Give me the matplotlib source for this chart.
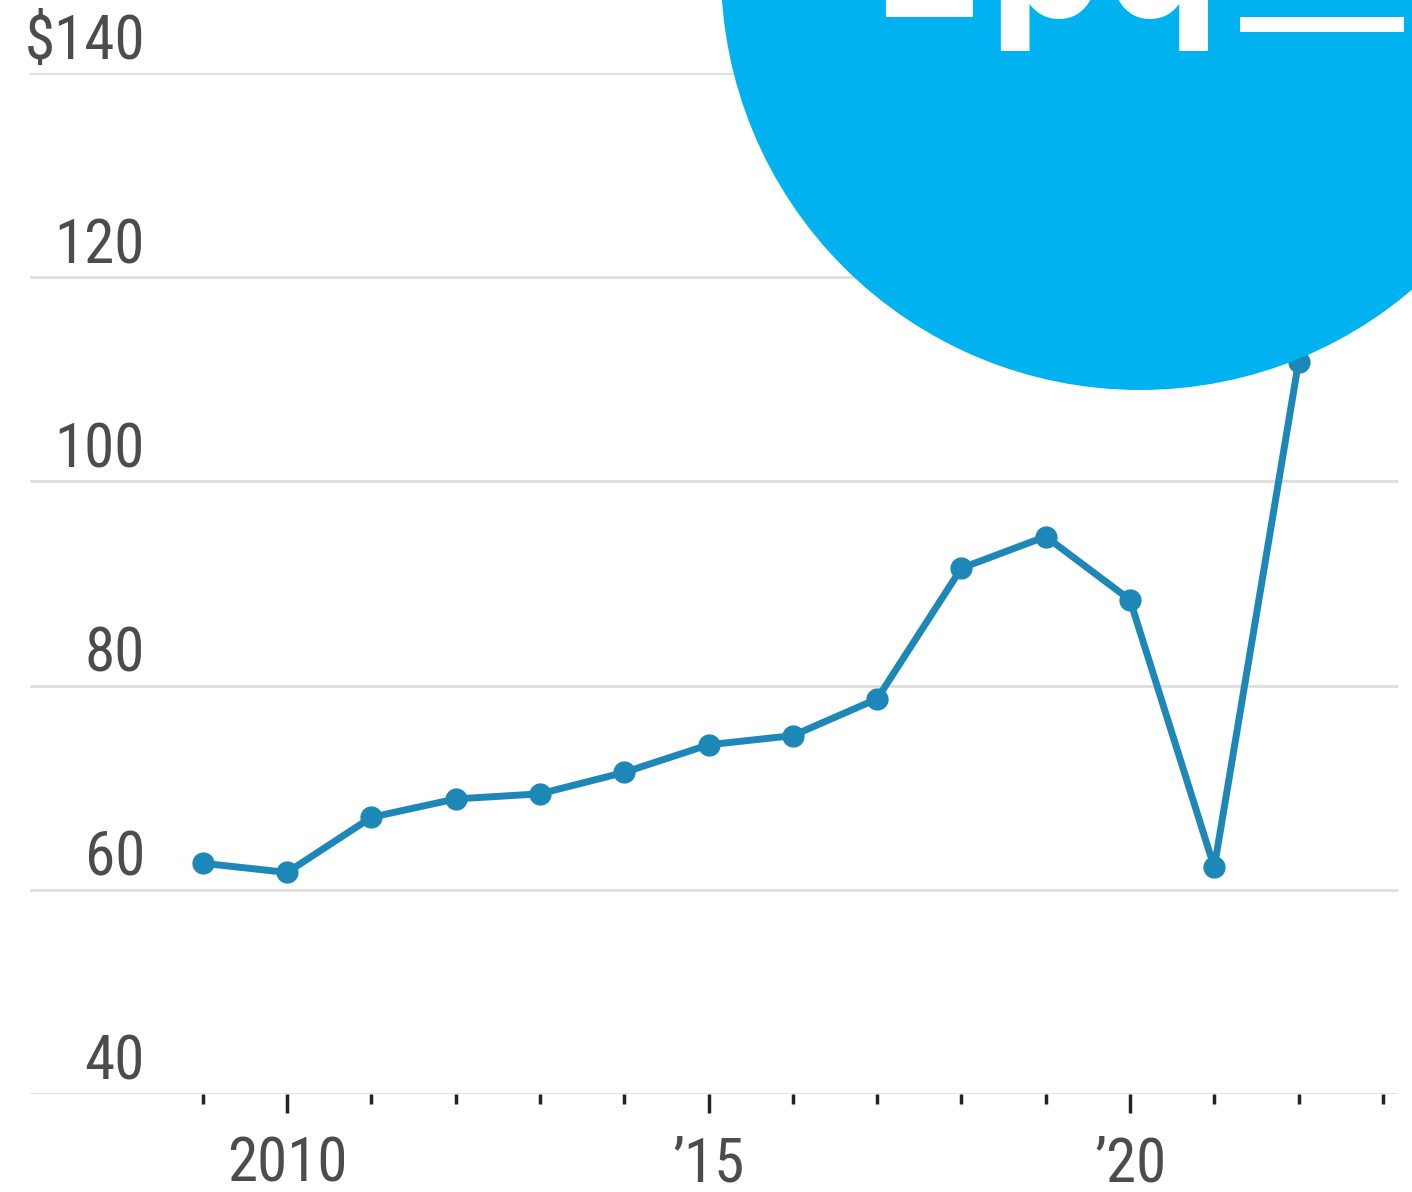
import matplotlib
matplotlib.use('Agg')
import matplotlib.pyplot as plt
from matplotlib.patches import Circle
from matplotlib.transforms import IdentityTransform, blended_transform_factory, offset_copy

# Data
years = [2009, 2010, 2011, 2012, 2013, 2014, 2015, 2016, 2017, 2018, 2019, 2020, 2021, 2022]
values = [62.6, 61.7, 67.1, 68.9, 69.4, 71.5, 74.2, 75.1, 78.7, 91.5, 94.6, 88.4, 62.2, 111.7]
y_ticks = [40, 60, 80, 100, 120, 140]
y_labels = ['40', '60', '80', '100', '120', '$140']
x_major = [2010, 2015, 2020]
x_major_labels = ['2010', '\u201915', '\u201920']
x_minor = list(range(2009, 2024))

W, H = 1412, 1192
fig = plt.figure(figsize=(W / 100, H / 100), dpi=100)
ax = fig.add_axes([30 / W, (H - 1094) / H, (1398 - 30) / W, (1094 - 73) / H])

label_font = ['Roboto Condensed', 'Roboto', 'DejaVu Sans']
line_color = '#1d88b8'

ax.plot(years, values, color=line_color, linewidth=5, marker='o',
        markersize=15, zorder=3, solid_joinstyle='round')

ax.set_xlim(2006.95, 2023.18)
ax.set_ylim(40, 140)

# light horizontal gridlines
for v in y_ticks:
    ax.axhline(v, color='#dedede', linewidth=2, zorder=1)

for s in ax.spines.values():
    s.set_visible(False)
ax.set_yticks([])

# y labels sit above each gridline, right aligned
trans = blended_transform_factory(ax.transAxes, ax.transData)
trans = offset_copy(trans, fig=fig, y=14, units='dots')
for v, lab in zip(y_ticks, y_labels):
    ax.text(0.084, v, lab, transform=trans, ha='right', va='baseline',
            fontsize=44, color='#4c4c4c', family=label_font)

# x ticks, major longer than minor
ax.set_xticks(x_major)
ax.set_xticklabels(x_major_labels, fontsize=44, color='#4c4c4c', family=label_font)
ax.set_xticks(x_minor, minor=True)
ax.tick_params(axis='x', which='major', length=14, width=2.5, color='#222222',
               direction='out', pad=16)
ax.tick_params(axis='x', which='minor', length=7, width=2.5, color='#222222',
               direction='out')

# badge circle overlapping the top right
badge = Circle((1140, H + 29), 419, transform=IdentityTransform(),
               facecolor='#00b2ef', edgecolor='none', zorder=10)
fig.add_artist(badge)
fig.text(873 / W, (H - 17) / H, '2pq', color='white', fontsize=118,
         fontweight='bold', ha='left', va='baseline', zorder=11)
fig.text(1240 / W, (H + 7) / H, '__', color='white', fontsize=118,
         fontweight='bold', ha='left', va='baseline', zorder=11)

plt.savefig('out.png', dpi=100)
